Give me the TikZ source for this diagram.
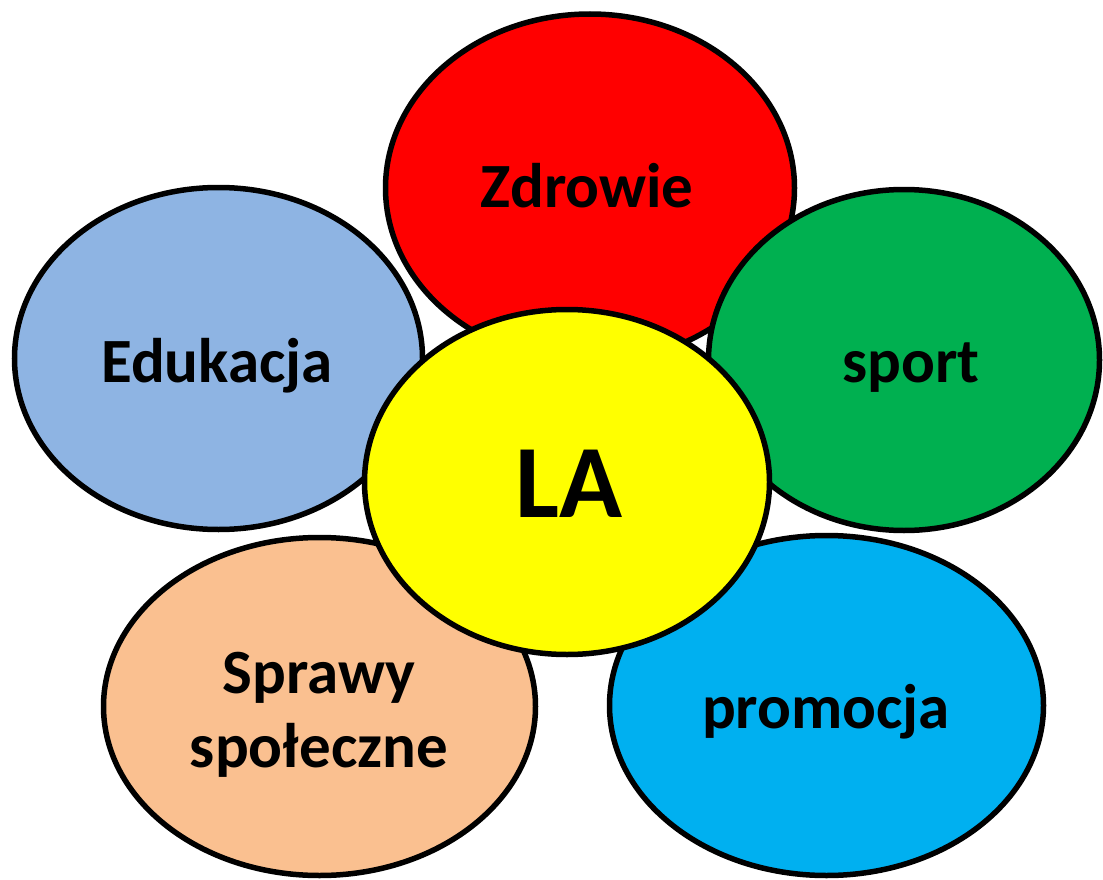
\documentclass[tikz,border=0pt]{standalone}
\usepackage{fontspec}
\setmainfont{Carlito}
\usetikzlibrary{shapes.geometric}
\definecolor{cred}{HTML}{FF0000}
\definecolor{cedu}{HTML}{8EB4E3}
\definecolor{cgreen}{HTML}{00B050}
\definecolor{cpeach}{HTML}{FAC090}
\definecolor{cblue}{HTML}{00B0F0}
\definecolor{cyell}{HTML}{FFFF00}
\tikzset{
  petal/.style={ellipse, draw=black, line width=5.5pt, inner sep=0pt},
  lbl/.style={font=\bfseries\fontsize{63}{74}\selectfont, text=black, inner sep=0pt, align=center, anchor=base},
  biglbl/.style={font=\bfseries\fontsize{104}{120}\selectfont, text=black, inner sep=0pt, anchor=base}
}
\begin{document}
\begin{tikzpicture}[x=1pt,y=-1pt]
\useasboundingbox (0,0) rectangle (1103,880);
\node[petal, fill=cedu, minimum width=408pt, minimum height=342pt] (edu) at (218.5,358.5) {};
\node[petal, fill=cred, minimum width=409pt, minimum height=348pt] (zdr) at (590,188) {};
\node[petal, fill=cgreen, minimum width=391pt, minimum height=341pt] (spo) at (904,360) {};
\node[petal, fill=cpeach, minimum width=432pt, minimum height=338pt] (spr) at (319.5,706.5) {};
\node[petal, fill=cblue, minimum width=434pt, minimum height=340pt] (pro) at (826.5,705.5) {};
\node[petal, fill=cyell, minimum width=405pt, minimum height=345pt] (la) at (567,482) {};
\node[lbl] (tzdr) at (587,207) {Zdrowie};
\node[lbl] (tedu) at (217,382) {Edukacja};
\node[lbl] (tspo) at (911,382) {sport};
\node[lbl] (tspr) at (319,767) {Sprawy\\społeczne};
\node[lbl] (tpro) at (826,728) {promocja};
\node[biglbl] (tla) at (569,517) {LA};
\end{tikzpicture}
\end{document}
